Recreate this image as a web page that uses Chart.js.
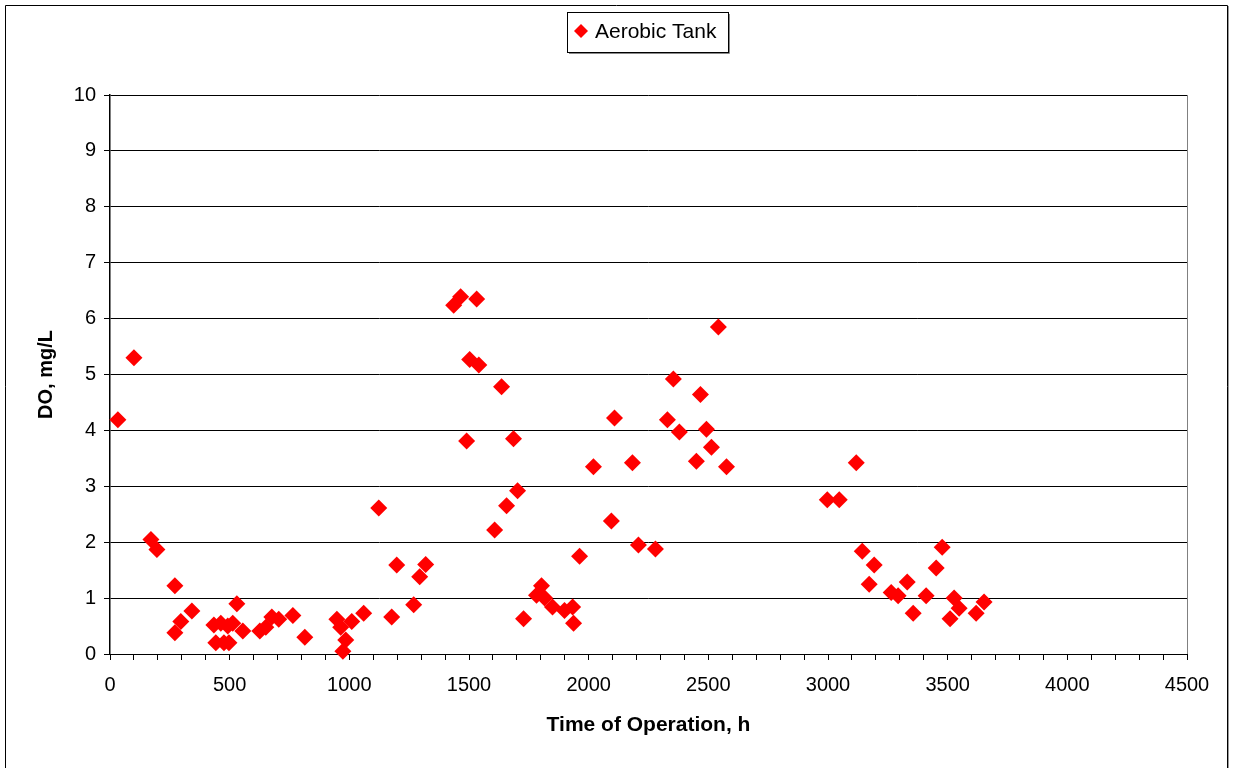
<!DOCTYPE html>
<html>
<head>
<meta charset="utf-8">
<script src="https://cdn.jsdelivr.net/npm/chart.js@4.4.1/dist/chart.umd.min.js"></script>
<style>
  html, body { margin: 0; padding: 0; background: #fff; }
  #wrap { width: 1233px; height: 768px; }
</style>
</head>
<body>
<div id="wrap"><canvas id="myChart"></canvas></div>
<script>
// Time of operation (h) and dissolved oxygen (mg/L)
var hours = [33, 100, 171, 196, 271, 271, 296, 342, 434, 442, 463, 476, 492, 497, 513, 530, 555,
  626, 651, 676, 705, 764, 814, 948, 964, 973, 985, 1010, 1060, 1123, 1177, 1198, 1269, 1294, 1319,
  1436, 1465, 1532, 1503, 1541, 1490, 1636, 1657, 1686, 1703, 1607, 1728, 1782, 1803, 1816, 1849,
  1899, 1933, 1937, 1962, 2020, 2095, 2108, 2183, 2208, 2279, 2329, 2354, 2379, 2450, 2467, 2492,
  2513, 2542, 2576, 2997, 3047, 3118, 3143, 3172, 3193, 3264, 3293, 3331, 3356, 3410, 3452, 3477,
  3510, 3527, 3548, 3619, 3652];
var doValues = [4.19, 5.30, 2.05, 1.87, 1.22, 0.38, 0.58, 0.77, 0.52, 0.20, 0.55, 0.20, 0.50, 0.20, 0.55, 0.90, 0.41,
  0.41, 0.48, 0.66, 0.62, 0.69, 0.30, 0.62, 0.48, 0.05, 0.25, 0.58, 0.73, 2.61, 0.66, 1.59, 0.88, 1.38, 1.60,
  6.24, 6.39, 6.35, 5.27, 5.17, 3.81, 4.78, 2.65, 3.85, 2.92, 2.22, 0.63, 1.05, 1.22, 1.00, 0.84,
  0.78, 0.84, 0.55, 1.75, 3.35, 2.38, 4.22, 3.42, 1.95, 1.88, 4.19, 4.92, 3.97, 3.45, 4.64, 4.02,
  3.70, 5.85, 3.35, 2.76, 2.76, 3.42, 1.84, 1.25, 1.59, 1.10, 1.04, 1.29, 0.73, 1.04, 1.54, 1.91,
  0.63, 1.00, 0.82, 0.73, 0.93];
var seriesName = "Aerobic Tank";
var xLabelStep = 500;

var points = hours.map(function (h, i) { return {x: h, y: doValues[i]}; });
var fam = "'Liberation Sans', Arial, sans-serif";
var tickFont = {family: fam, size: 20};

var frame = {
  id: "frame",
  beforeDraw: function (chart) {
    var ctx = chart.ctx;
    ctx.save();
    ctx.fillStyle = "#fff";
    ctx.fillRect(0, 0, chart.width, chart.height);
    ctx.restore();
  },
  afterDraw: function (chart) {
    var ctx = chart.ctx, a = chart.chartArea;
    ctx.save();
    // outer border
    ctx.strokeStyle = "#000";
    ctx.lineWidth = 1;
    ctx.beginPath();
    ctx.moveTo(5.5, 768);
    ctx.lineTo(5.5, 5.5);
    ctx.lineTo(1227.5, 5.5);
    ctx.lineTo(1227.5, 768);
    ctx.stroke();
    ctx.strokeStyle = "#999";
    ctx.beginPath();
    ctx.moveTo(1228.5, 6);
    ctx.lineTo(1228.5, 768);
    ctx.stroke();
    // plot right edge
    ctx.strokeStyle = "#808080";
    ctx.beginPath();
    ctx.moveTo(Math.round(a.right) + 0.5, a.top);
    ctx.lineTo(Math.round(a.right) + 0.5, a.bottom);
    ctx.stroke();
    // legend box
    ctx.strokeStyle = "#000";
    ctx.strokeRect(567.5, 12.5, 161, 40);
    ctx.strokeStyle = "#888";
    ctx.beginPath();
    ctx.moveTo(569, 53.5); ctx.lineTo(729.5, 53.5); ctx.lineTo(729.5, 14);
    ctx.stroke();
    ctx.fillStyle = "#ff0000";
    ctx.beginPath();
    ctx.moveTo(581, 24); ctx.lineTo(588, 31); ctx.lineTo(581, 38); ctx.lineTo(574, 31);
    ctx.closePath();
    ctx.fill();
    ctx.fillStyle = "#000";
    ctx.font = "21px " + fam;
    ctx.textBaseline = "middle";
    ctx.textAlign = "left";
    ctx.fillText(seriesName, 595, 32);
    ctx.restore();
  }
};

new Chart("myChart", {
  type: "scatter",
  data: {
    datasets: [{
      label: seriesName,
      data: points,
      pointStyle: "rectRot",
      pointRadius: 8.5,
      pointHoverRadius: 8.5,
      backgroundColor: "#ff0000",
      borderWidth: 0,
      clip: false
    }]
  },
  options: {
    responsive: true,
    maintainAspectRatio: false,
    devicePixelRatio: 1,
    animation: false,
    layout: {padding: {left: 0, right: 46, top: 95, bottom: 0}},
    plugins: {legend: {display: false}, tooltip: {enabled: false}},
    scales: {
      x: {
        type: "linear",
        position: "bottom",
        min: 0,
        max: 4500,
        ticks: {
          stepSize: 100,
          autoSkip: false,
          maxRotation: 0,
          padding: 13,
          color: "#000",
          font: tickFont,
          callback: function (v) { return v % xLabelStep === 0 ? v : ""; }
        },
        grid: {drawOnChartArea: false, drawTicks: true, tickLength: 6, color: "#000"},
        border: {color: "#000", width: 1},
        title: {display: true, text: "Time of Operation, h", color: "#000",
          font: {family: fam, size: 21, weight: "bold"}, padding: {top: 0, bottom: 30}},
        afterFit: function (s) { s.height = 114; }
      },
      y: {
        min: 0,
        max: 10,
        ticks: {stepSize: 1, padding: 8, color: "#000", font: tickFont},
        grid: {color: "#000", tickLength: 6},
        border: {color: "#000", width: 1.5},
        title: {display: true, text: "DO, mg/L", color: "#000",
          font: {family: fam, size: 20, weight: "bold"}, padding: {top: 34, bottom: 0}},
        afterFit: function (s) { s.width = 110; }
      }
    }
  },
  plugins: [frame]
});
</script>
</body>
</html>
